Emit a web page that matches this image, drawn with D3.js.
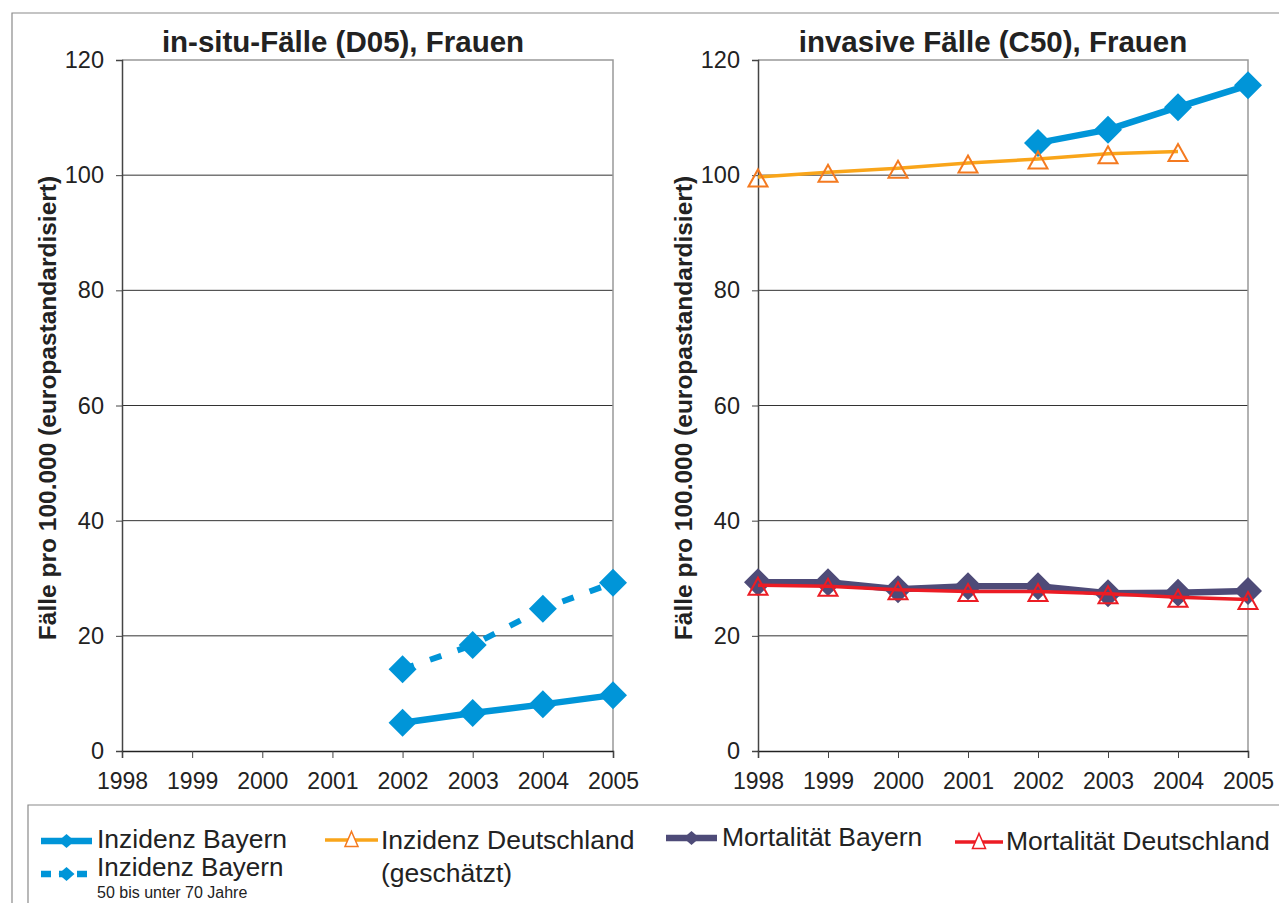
<!DOCTYPE html>
<html><head><meta charset="utf-8">
<script src="https://cdn.jsdelivr.net/npm/d3@7"></script>
<style>
html,body{margin:0;padding:0;background:#fff;}
svg{display:block;font-family:"Liberation Sans",Arial,sans-serif;}
</style></head>
<body>
<svg id="c" width="1279" height="903"></svg>
<script>
const years = [1998,1999,2000,2001,2002,2003,2004,2005];
const yTicks = [0,20,40,60,80,100,120];

// left chart: in-situ (D05)
const insituYears = [2002,2003,2004,2005];
const insituBayern = [4.9, 6.6, 8.1, 9.7];
const insituBayern5070 = [14.2, 18.4, 24.7, 29.2];

// right chart: invasive (C50)
const invBayernYears = [2002,2003,2004,2005];
const invBayern = [105.6, 107.9, 111.8, 115.6];
const invDeutschlandYears = [1998,1999,2000,2001,2002,2003,2004];
const invDeutschland = [99.7, 100.5, 101.2, 102.1, 102.8, 103.7, 104.1];
const mortBayern = [29.3, 29.3, 28.1, 28.6, 28.6, 27.4, 27.5, 27.8];
const mortDeutschland = [28.8, 28.6, 28.0, 27.7, 27.7, 27.3, 26.7, 26.3];

const titles = ["in-situ-Fälle (D05), Frauen", "invasive Fälle (C50), Frauen"];
const yTitle = "Fälle pro 100.000 (europastandardisiert)";

const C_BLUE = "#0095d8", C_ORANGE_L = "#f9a51a", C_ORANGE_M = "#f47a20",
      C_PURPLE = "#4e4b78", C_RED = "#ec1c24";

const svg = d3.select("#c");

// outer frame
svg.append("path").attr("d","M12,903 L12,13 L1279,13").attr("fill","none").attr("stroke","#8a8a8a").attr("stroke-width",1.2);
// legend box
svg.append("path").attr("d","M28,903 L28,805 L1279,805").attr("fill","none").attr("stroke","#8a8a8a").attr("stroke-width",1.2);

function diamond(h, v){ v = v||h; return `M0,${-v}L${h},0L0,${v}L${-h},0Z`; }
function triangle(w,h){ return `M0,${-h/2}L${w/2},${h/2}L${-w/2},${h/2}Z`; }

function panel(x0, x1, title, titleCx, ytX) {
  const y = d3.scaleLinear().domain([0,120]).range([751,60]);
  const x = d3.scaleLinear().domain([1998,2005]).range([x0,x1]);
  const g = svg.append("g");
  // gridlines
  g.selectAll("line.grid").data(yTicks.filter(v=>v>0 && v<120)).join("line")
    .attr("x1",x0).attr("x2",x1).attr("y1",d=>y(d)).attr("y2",d=>y(d))
    .attr("stroke","#333").attr("stroke-width",1);
  // top & right border
  g.append("path").attr("d",`M${x0},${y(120)}L${x1},${y(120)}L${x1},${y(0)}`)
    .attr("fill","none").attr("stroke","#999").attr("stroke-width",1.5);
  // y axis
  const ya = g.append("g").attr("transform",`translate(${x0},0)`)
    .call(d3.axisLeft(y).tickValues(yTicks).tickSize(6).tickPadding(12).tickFormat(d3.format("d")));
  ya.select(".domain").attr("stroke","#444").attr("stroke-width",1.5);
  ya.selectAll(".tick line").attr("stroke","#444");
  ya.selectAll("text").attr("font-size",23.5).attr("fill","#222").attr("font-family","Liberation Sans, Arial, sans-serif");
  // x axis
  const xa = g.append("g").attr("transform",`translate(0,${y(0)})`)
    .call(d3.axisBottom(x).tickValues(years).tickSize(7).tickPadding(15).tickFormat(d3.format("d")));
  xa.select(".domain").attr("stroke","#222").attr("stroke-width",1.5);
  xa.selectAll(".tick line").attr("stroke","#444");
  xa.selectAll("text").attr("font-size",23).attr("fill","#222").attr("font-family","Liberation Sans, Arial, sans-serif");
  // title
  g.append("text").attr("x",titleCx).attr("y",52).attr("text-anchor","middle")
    .attr("font-size",29.5).attr("font-weight","bold").attr("fill","#222").text(title);
  // y title
  g.append("text").attr("transform",`translate(${ytX},${408}) rotate(-90)`)
    .attr("text-anchor","middle").attr("font-size",24.5).attr("font-weight","bold").attr("fill","#222").text(yTitle);
  return {x,y,g};
}

function drawLine(p, xs, vs, color, width, dash) {
  const line = d3.line().x(d=>p.x(d[0])).y(d=>p.y(d[1]));
  p.g.append("path").datum(xs.map((d,i)=>[d,vs[i]])).attr("d",line)
    .attr("fill","none").attr("stroke",color).attr("stroke-width",width)
    .attr("stroke-dasharray",dash||null).attr("stroke-linejoin","round");
}
function drawDiamonds(p, xs, vs, color, h) {
  p.g.selectAll(null).data(xs.map((d,i)=>[d,vs[i]])).join("path")
    .attr("transform",d=>`translate(${p.x(d[0])},${p.y(d[1])})`)
    .attr("d",diamond(h)).attr("fill",color);
}
function drawTriangles(p, xs, vs, color) {
  p.g.selectAll(null).data(xs.map((d,i)=>[d,vs[i]])).join("path")
    .attr("transform",d=>`translate(${p.x(d[0])},${p.y(d[1])+1})`)
    .attr("d",triangle(19,17)).attr("fill","none").attr("stroke",color).attr("stroke-width",2);
}

const L = panel(122, 613, titles[0], 343, 56);
drawLine(L, insituYears, insituBayern5070, C_BLUE, 6, "12,17");
drawDiamonds(L, insituYears, insituBayern5070, C_BLUE, 14);
drawLine(L, insituYears, insituBayern, C_BLUE, 6.5);
drawDiamonds(L, insituYears, insituBayern, C_BLUE, 14);

const R = panel(758, 1248, titles[1], 993, 692);
drawLine(R, invDeutschlandYears, invDeutschland, C_ORANGE_L, 3.5);
drawLine(R, invBayernYears, invBayern, C_BLUE, 6.5);
drawDiamonds(R, invBayernYears, invBayern, C_BLUE, 14);
drawTriangles(R, invDeutschlandYears, invDeutschland, C_ORANGE_M);
drawLine(R, years, mortBayern, C_PURPLE, 6.5);
drawDiamonds(R, years, mortBayern, C_PURPLE, 14);
drawLine(R, years, mortDeutschland, C_RED, 3.5);
drawTriangles(R, years, mortDeutschland, C_RED);

// legend
const lg = svg.append("g");
function legSample(x1, x2, y, color, width, marker, dash) {
  lg.append("line").attr("x1",x1).attr("x2",x2).attr("y1",y).attr("y2",y)
    .attr("stroke",color).attr("stroke-width",width).attr("stroke-dasharray",dash||null);
  const cx = (x1+x2)/2;
  if (marker==="d") lg.append("path").attr("transform",`translate(${cx},${y})`).attr("d",diamond(8,7)).attr("fill",color);
  else lg.append("path").attr("transform",`translate(${cx},${y-1})`).attr("d",triangle(13,15))
        .attr("fill","#fff").attr("stroke",marker).attr("stroke-width",1.5);
}
function legText(x, y, t, size) {
  lg.append("text").attr("x",x).attr("y",y).attr("font-size",size||26.5).attr("fill","#222").text(t);
}
legSample(41, 92, 841, C_BLUE, 6.5, "d");
legText(97, 848, "Inzidenz Bayern");
legSample(41, 92, 874, C_BLUE, 6.5, "d", "10,8");
legText(97, 876, "Inzidenz Bayern", 26);
legText(97, 898, "50 bis unter 70 Jahre", 16);
legSample(325, 378, 840, C_ORANGE_L, 3.5, C_ORANGE_M);
legText(381, 849, "Inzidenz Deutschland");
legText(381, 882, "(geschätzt)");
legSample(666, 717, 838, C_PURPLE, 6.5, "d");
legText(722, 846, "Mortalität Bayern");
legSample(955, 1003, 842, C_RED, 3.5, C_RED);
legText(1006, 850, "Mortalität Deutschland");
</script>
</body></html>
